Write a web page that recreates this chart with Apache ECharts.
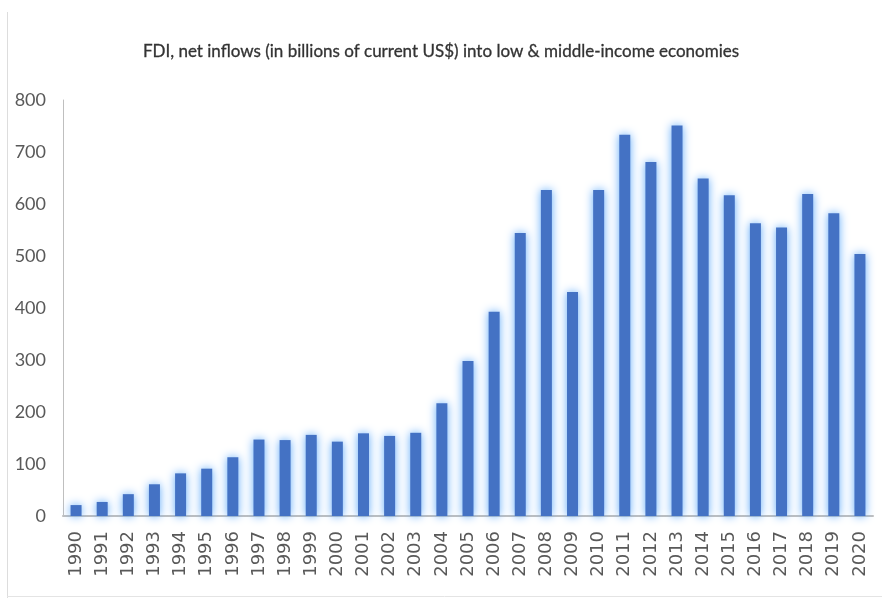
<!DOCTYPE html>
<html>
<head>
<meta charset="utf-8">
<script src="https://cdn.jsdelivr.net/npm/echarts@6/dist/echarts.min.js"></script>
<style>
html,body{margin:0;padding:0;background:#fff;}
#chart{width:882px;height:598px;}
</style>
</head>
<body>
<div id="chart"></div>
<script>
var titleText = 'FDI, net inflows (in billions of current US$) into low & middle-income economies';
var years = ['1990','1991','1992','1993','1994','1995','1996','1997','1998','1999','2000','2001','2002','2003','2004','2005','2006','2007','2008','2009','2010','2011','2012','2013','2014','2015','2016','2017','2018','2019','2020'];
var fdiValues = [21,27,42,61,82,91,113,147,146,156,143,159,154,160,217,298,393,544,627,431,627,733,681,751,649,617,563,555,619,582,504];
var yTicks = {min:0, max:800, interval:100};

var chart = echarts.init(document.getElementById('chart'), null, {renderer:'canvas'});
chart.setOption({
  animation:false,
  backgroundColor:'#ffffff',
  title:{
    text:titleText,
    left:'center',
    top:38,
    textStyle:{fontFamily:'Lato',fontSize:17,fontWeight:'normal',color:'#333333',textBorderColor:'#333333',textBorderWidth:0.3}
  },
  grid:{left:63,right:9,top:100,bottom:82,containLabel:false},
  xAxis:{
    type:'category',
    data:years,
    axisLine:{show:true,lineStyle:{color:'#bfbfbf',width:2}},
    axisTick:{show:false},
    axisLabel:{rotate:90,interval:0,margin:15,fontFamily:'DejaVu Sans',fontSize:18,color:'#595959'}
  },
  yAxis:{
    type:'value',
    min:yTicks.min,max:yTicks.max,interval:yTicks.interval,
    axisLine:{show:true,lineStyle:{color:'#bfbfbf',width:1}},
    axisTick:{show:false},
    splitLine:{show:false},
    axisLabel:{margin:17,fontFamily:'Lato',fontSize:18,color:'#595959'}
  },
  graphic:[
    {type:'line',shape:{x1:7.5,y1:12,x2:7.5,y2:598},style:{stroke:'#dddddd',lineWidth:1}},
    {type:'line',shape:{x1:7,y1:596.5,x2:882,y2:596.5},style:{stroke:'#e4e4e4',lineWidth:1}}
  ],
  series:[{
    type:'bar',
    data:fdiValues,
    barWidth:11,
    itemStyle:{color:'#4472c4',shadowBlur:10,shadowColor:'rgba(95,170,250,1)'}
  }]
});
</script>
</body>
</html>
